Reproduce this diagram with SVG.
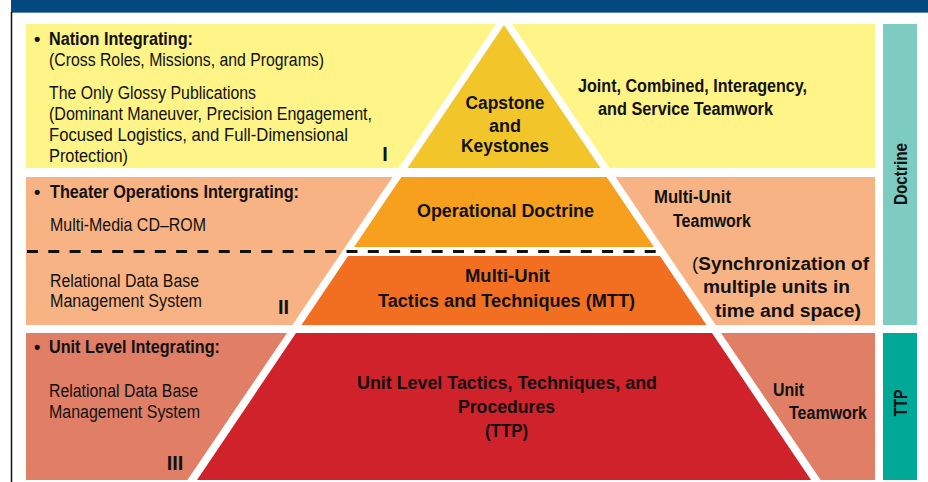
<svg xmlns="http://www.w3.org/2000/svg" width="928" height="482" viewBox="0 0 928 482">
<style>
text{font-family:"Liberation Sans",Arial,sans-serif;font-size:18px;fill:#111}
.b{font-weight:bold}
.num{font-weight:bold;font-size:20px}
.mid{text-anchor:middle}
</style>
<rect width="928" height="482" fill="#fff"/>
<g id="frame">
<rect x="11" y="0" width="917" height="12" fill="#03497d"/>
<line x1="11" y1="12.5" x2="928" y2="12.5" stroke="#5b86ad" stroke-width="1"/>
<line x1="11.5" y1="12" x2="11.5" y2="482" stroke="#111" stroke-width="1.5"/>
</g>
<g id="bands">
<rect id="band-nation" x="26" y="24" width="849" height="144" fill="#fef487"/>
<rect id="band-theater" x="26" y="177" width="849" height="148" fill="#f8b384"/>
<rect id="band-unit" x="26" y="333" width="849" height="147" fill="#e07e66"/>
</g>
<g id="pyramid">
<polygon points="504,12.4 820.6,480 187.4,480" fill="#fff"/>
<polygon id="capstone" points="504,25 600.5,168 407.5,168" fill="#f2c52a"/>
<polygon id="operational" points="401.4,177 606.6,177 653.9,247 354.1,247" fill="#f6a01e"/>
<polygon id="mtt" points="348,256 660,256 706.5,325 301.5,325" fill="#f26f22"/>
<polygon id="unit-ttp" points="296,333 712,333 811,480 197,480" fill="#cf222a"/>
</g>
<g id="connectors">
<line x1="27" y1="251.5" x2="660" y2="251.5" stroke="#111" stroke-width="3" stroke-dasharray="11 10.3"/>
</g>
<g id="node-nation">
<text class="b" x="34" y="45">•</text>
<text class="b" x="49" y="45" textLength="144" lengthAdjust="spacingAndGlyphs">Nation Integrating:</text>
<text x="49" y="66" textLength="275" lengthAdjust="spacingAndGlyphs">(Cross Roles, Missions, and Programs)</text>
<text x="49" y="99" textLength="207" lengthAdjust="spacingAndGlyphs">The Only Glossy Publications</text>
<text x="49" y="120" textLength="323" lengthAdjust="spacingAndGlyphs">(Dominant Maneuver, Precision Engagement,</text>
<text x="49" y="141" textLength="299" lengthAdjust="spacingAndGlyphs">Focused Logistics, and Full-Dimensional</text>
<text x="49" y="162" textLength="79" lengthAdjust="spacingAndGlyphs">Protection)</text>
<text class="num mid" x="385" y="161">I</text>
</g>
<g id="node-capstone">
<text class="b mid" x="505" y="109" textLength="79" lengthAdjust="spacingAndGlyphs">Capstone</text>
<text class="b mid" x="505" y="132" textLength="32" lengthAdjust="spacingAndGlyphs">and</text>
<text class="b mid" x="505" y="152" textLength="88" lengthAdjust="spacingAndGlyphs">Keystones</text>
</g>
<g id="node-joint">
<text class="b" x="578" y="92" textLength="229" lengthAdjust="spacingAndGlyphs">Joint, Combined, Interagency,</text>
<text class="b" x="598" y="115" textLength="175" lengthAdjust="spacingAndGlyphs">and Service Teamwork</text>
</g>
<g id="node-theater">
<text class="b" x="34" y="198">•</text>
<text class="b" x="50" y="198" textLength="249" lengthAdjust="spacingAndGlyphs">Theater Operations Intergrating:</text>
<text x="50" y="231" textLength="156" lengthAdjust="spacingAndGlyphs">Multi-Media CD–ROM</text>
<text x="50" y="287" textLength="149" lengthAdjust="spacingAndGlyphs">Relational Data Base</text>
<text x="50" y="307" textLength="152" lengthAdjust="spacingAndGlyphs">Management System</text>
<text class="num mid" x="283.5" y="314">II</text>
</g>
<g id="node-operational">
<text class="b" x="417" y="217" textLength="177" lengthAdjust="spacingAndGlyphs">Operational Doctrine</text>
</g>
<g id="node-mtt">
<text class="b" x="465" y="282" textLength="85" lengthAdjust="spacingAndGlyphs">Multi-Unit</text>
<text class="b" x="378" y="307" textLength="257" lengthAdjust="spacingAndGlyphs">Tactics and Techniques (MTT)</text>
</g>
<g id="node-multiunit-teamwork">
<text class="b" x="654" y="203" textLength="77" lengthAdjust="spacingAndGlyphs">Multi-Unit</text>
<text class="b" x="673" y="227" textLength="78" lengthAdjust="spacingAndGlyphs">Teamwork</text>
<text class="b" x="692" y="270" textLength="177" lengthAdjust="spacingAndGlyphs"><tspan font-weight="normal">(</tspan>Synchronization of</text>
<text class="b" x="703" y="293" textLength="147" lengthAdjust="spacingAndGlyphs">multiple units in</text>
<text class="b" x="715" y="317" textLength="146" lengthAdjust="spacingAndGlyphs">time and space)</text>
</g>
<g id="node-unit-level">
<text class="b" x="34" y="353">•</text>
<text class="b" x="49" y="353" textLength="171" lengthAdjust="spacingAndGlyphs">Unit Level Integrating:</text>
<text x="49" y="397" textLength="149" lengthAdjust="spacingAndGlyphs">Relational Data Base</text>
<text x="49" y="418" textLength="151" lengthAdjust="spacingAndGlyphs">Management System</text>
<text class="num mid" x="175" y="470">III</text>
</g>
<g id="node-ttp">
<text class="b" x="357" y="389" textLength="300" lengthAdjust="spacingAndGlyphs">Unit Level Tactics, Techniques, and</text>
<text class="b" x="458" y="413" textLength="97" lengthAdjust="spacingAndGlyphs">Procedures</text>
<text class="b" x="485" y="437" textLength="43" lengthAdjust="spacingAndGlyphs">(TTP)</text>
</g>
<g id="node-unit-teamwork">
<text class="b" x="773" y="396" textLength="31" lengthAdjust="spacingAndGlyphs">Unit</text>
<text class="b" x="789" y="419" textLength="78" lengthAdjust="spacingAndGlyphs">Teamwork</text>
</g>
<g id="node-doctrine">
<rect x="883" y="24" width="34" height="301" fill="#7dcbc1"/>
<text class="b mid" transform="translate(907,174) rotate(-90)" textLength="62" lengthAdjust="spacingAndGlyphs">Doctrine</text>
</g>
<g id="node-ttp-label">
<rect x="883" y="333" width="34" height="147" fill="#00a997"/>
<text class="b mid" transform="translate(907,403) rotate(-90)" textLength="27" lengthAdjust="spacingAndGlyphs">TTP</text>
</g>
</svg>
